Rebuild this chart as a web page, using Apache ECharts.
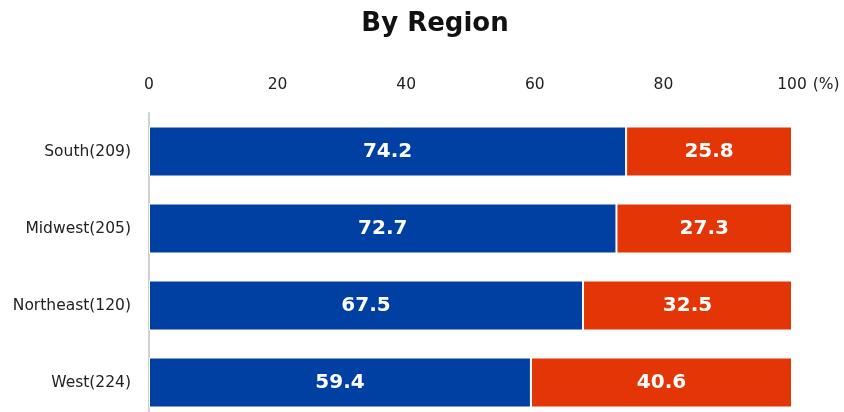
<!DOCTYPE html>
<html>
<head>
<meta charset="utf-8">
<script src="https://cdn.jsdelivr.net/npm/echarts@6/dist/echarts.min.js"></script>
<style>
html,body{margin:0;padding:0;background:#fff;overflow:hidden;}
#main{width:844px;height:421px;}
</style>
</head>
<body>
<div id="main"></div>
<script>
var regions = ['South(209)', 'Midwest(205)', 'Northeast(120)', 'West(224)'];
var shareA = [74.2, 72.7, 67.5, 59.4];
var shareB = [25.8, 27.3, 32.5, 40.6];
var xTicks = [0, 20, 40, 60, 80, 100];

var myChart = echarts.init(document.getElementById('main'));
var font = 'Verdana, "DejaVu Sans", sans-serif';
var labelStyle = {
    show: true,
    position: 'inside',
    color: '#fff',
    fontSize: 20,
    fontWeight: 'bold',
    fontFamily: font
};
myChart.setOption({
    animation: false,
    title: {
        text: 'By Region',
        left: 430,
        textAlign: 'center',
        top: 6,
        textStyle: { fontSize: 26, fontWeight: 'bold', color: '#111', fontFamily: font }
    },
    grid: { left: 149, right: 52, top: 113, bottom: 0, containLabel: false },
    xAxis: {
        type: 'value',
        position: 'top',
        min: 0,
        max: 100,
        interval: 20,
        name: '(%)',
        nameLocation: 'end',
        nameGap: 18,
        nameTextStyle: {
            fontSize: 15.5, color: '#222', fontFamily: font,
            verticalAlign: 'bottom', padding: [0, 0, 20, 0]
        },
        axisLine: { show: false },
        axisTick: { show: false },
        splitLine: { show: false },
        axisLabel: {
            margin: 20,
            fontSize: 15.5,
            color: '#222',
            fontFamily: font,
            formatter: function (v) {
                return xTicks.indexOf(v) >= 0 ? String(v) : '';
            }
        }
    },
    yAxis: {
        type: 'category',
        inverse: true,
        data: regions,
        axisLine: { show: true, lineStyle: { color: '#d0d0d0', width: 2 } },
        axisTick: { show: false },
        axisLabel: { margin: 18, fontSize: 15.5, color: '#222', fontFamily: font }
    },
    series: [
        {
            name: 'A',
            type: 'bar',
            stack: 'total',
            barWidth: 50,
            data: shareA,
            itemStyle: { color: '#0040A2', borderColor: '#fff', borderWidth: 1 },
            label: labelStyle
        },
        {
            name: 'B',
            type: 'bar',
            stack: 'total',
            barWidth: 50,
            data: shareB,
            itemStyle: { color: '#E33506', borderColor: '#fff', borderWidth: 1 },
            label: labelStyle
        }
    ]
});
</script>
</body>
</html>
